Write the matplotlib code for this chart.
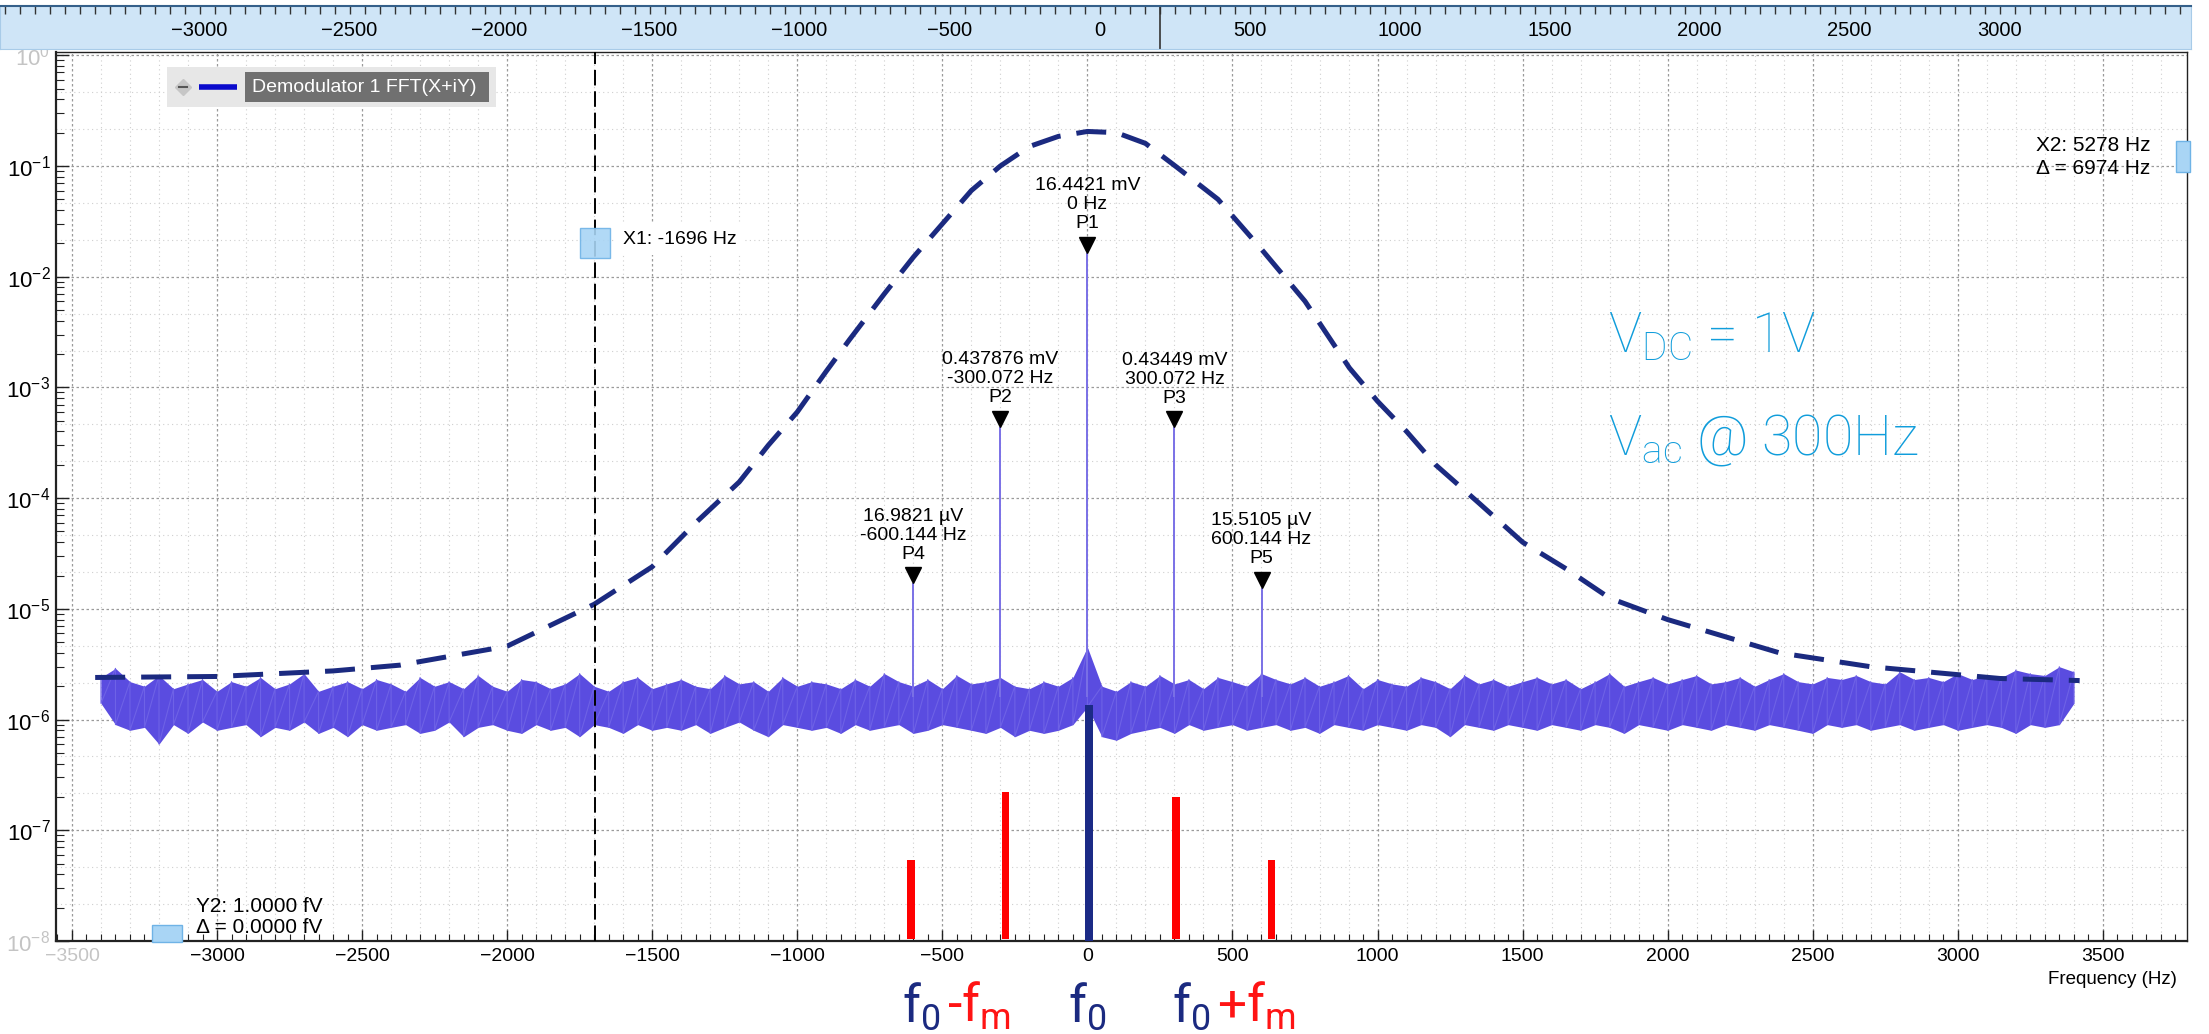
import numpy as np
import matplotlib.pyplot as plt
from matplotlib import transforms
from matplotlib.patches import Rectangle
from matplotlib.ticker import MultipleLocator, LogLocator, NullFormatter

plt.rcParams['font.family'] = ['Liberation Sans', 'DejaVu Sans']
plt.rcParams['mathtext.default'] = 'regular'
plt.rcParams['font.size'] = 14

# Noise floor of the FFT, upper / lower envelope every 50 Hz (in uV)
noise_freq = np.arange(-3400, 3401, 50)
noise_hi_uV = [
    2.4, 2.9, 2.2, 2.0, 2.5, 1.9, 2.1, 2.3, 1.8, 2.2,
    2.0, 2.4, 1.9, 2.1, 2.6, 1.8, 2.0, 2.2, 1.9, 2.3,
    2.1, 1.8, 2.4, 2.0, 2.2, 1.9, 2.5, 2.0, 1.8, 2.3,
    2.2, 1.9, 2.1, 2.6, 2.0, 1.8, 2.2, 2.4, 1.9, 2.1,
    2.3, 2.0, 1.9, 2.5, 2.1, 2.2, 1.8, 2.4, 2.0, 2.2,
    2.1, 1.9, 2.3, 2.0, 2.6, 2.2, 2.0, 2.3, 1.9, 2.5,
    2.1, 2.2, 2.4, 2.0, 1.9, 2.2, 2.0, 2.4, 4.5, 2.0,
    1.8, 2.2, 2.0, 2.5, 2.1, 2.3, 1.9, 2.4, 2.2, 2.0,
    2.6, 2.3, 2.1, 2.4, 2.0, 2.2, 2.5, 1.9, 2.3, 2.1,
    2.0, 2.4, 2.2, 1.9, 2.5, 2.1, 2.3, 2.0, 2.2, 2.4,
    2.1, 2.3, 1.9, 2.2, 2.6, 2.0, 2.2, 2.4, 2.1, 2.3,
    2.5, 2.1, 2.2, 2.4, 2.0, 2.3, 2.6, 2.2, 2.1, 2.4,
    2.3, 2.5, 2.2, 2.1, 2.7, 2.3, 2.4, 2.2, 2.6, 2.3,
    2.5, 2.4, 2.8, 2.6, 2.5, 3.0, 2.7,
]
noise_lo_uV = [
    1.4, 0.9, 0.8, 0.85, 0.6, 0.9, 0.75, 0.95, 0.8, 0.85,
    0.9, 0.7, 0.85, 0.8, 0.95, 0.75, 0.85, 0.7, 0.9, 0.8,
    0.85, 0.9, 0.75, 0.8, 0.95, 0.7, 0.85, 0.9, 0.8, 0.75,
    0.9, 0.8, 0.85, 0.7, 0.9, 0.85, 0.75, 0.9, 0.8, 0.85,
    0.8, 0.9, 0.75, 0.85, 0.95, 0.8, 0.7, 0.9, 0.85, 0.8,
    0.85, 0.75, 0.9, 0.8, 0.85, 0.9, 0.75, 0.8, 0.9, 0.85,
    0.8, 0.75, 0.85, 0.7, 0.8, 0.75, 0.8, 0.9, 1.3, 0.7,
    0.65, 0.75, 0.8, 0.85, 0.75, 0.9, 0.8, 0.85, 0.9, 0.8,
    0.85, 0.9, 0.8, 0.85, 0.75, 0.9, 0.85, 0.8, 0.9, 0.85,
    0.8, 0.9, 0.85, 0.7, 0.9, 0.85, 0.8, 0.9, 0.85, 0.8,
    0.9, 0.85, 0.8, 0.9, 0.85, 0.75, 0.9, 0.85, 0.8, 0.9,
    0.85, 0.8, 0.9, 0.85, 0.8, 0.9, 0.85, 0.8, 0.75, 0.9,
    0.85, 0.9, 0.8, 0.85, 0.9, 0.8, 0.85, 0.9, 0.8, 0.85,
    0.9, 0.85, 0.75, 0.9, 0.85, 0.9, 1.4,
]

# Marked peaks
peak_names = ['P1', 'P2', 'P3', 'P4', 'P5']
peak_freq = [0.0, -300.072, 300.072, -600.144, 600.144]
peak_volt = [16.4421e-3, 0.437876e-3, 0.43449e-3, 16.9821e-6, 15.5105e-6]
peak_amp_text = ['16.4421 mV', '0.437876 mV', '0.43449 mV', '16.9821 µV', '15.5105 µV']
peak_freq_text = ['0 Hz', '-300.072 Hz', '300.072 Hz', '-600.144 Hz', '600.144 Hz']

# Resonance envelope (dashed)
env_freq = [-3420, -3000, -2600, -2370, -2000, -1700, -1500, -1350, -1200, -1100,
            -1000, -900, -820, -700, -600, -510, -400, -300, -200, -100,
            0, 100, 200, 307, 450, 593, 750, 903, 1000, 1100,
            1200, 1350, 1500, 1650, 1800, 2000, 2386, 2700, 3145, 3420]
env_volt = [2.4e-6, 2.45e-6, 2.75e-6, 3.1e-6, 4.6e-6, 1.1e-5, 2.4e-5, 6e-5, 1.4e-4, 3e-4,
            6e-4, 1.4e-3, 2.7e-3, 7e-3, 1.5e-2, 2.8e-2, 6e-2, 0.1, 0.15, 0.185,
            0.205, 0.2, 0.16, 0.098, 5e-2, 1.86e-2, 6e-3, 1.5e-3, 7.5e-4, 4e-4,
            2e-4, 9e-5, 4e-5, 2.3e-5, 1.25e-5, 8e-6, 4e-6, 3e-6, 2.35e-6, 2.25e-6]

# Sketched carrier and sideband lines
side_freq = [-608, -283, 306, 635]
side_top = [5.4e-8, 2.2e-7, 2.0e-7, 5.4e-8]
carrier_freq = [5]
carrier_top = [1.35e-6]
bar_floor = 1.05e-8

x1_freq = -1696
x1_level = 2e-2

NAVY = '#1b2a80'
CYAN = '#109ddb'
HANDLE_FC = '#a9d5f5'
HANDLE_EC = '#6fb3e6'

W, H = 2209, 1034
fig = plt.figure(figsize=(W / 100, H / 100), dpi=100)


def frac(l, t, r, b):
    return [l / W, 1 - b / H, (r - l) / W, (b - t) / H]


# ---- main spectrum axes ----
ax = fig.add_axes(frac(56, 52, 2187, 941))
ax.set_yscale('log')
ax.set_xlim(-3555, 3790)
ax.set_ylim(1e-8, 1.07)

ax.set_xticks(np.arange(-3500, 3501, 500))
ax.xaxis.set_minor_locator(MultipleLocator(50))
yt = list(range(-8, 1))
ax.set_yticks([10.0 ** k for k in yt])
ax.set_yticklabels([f'$10^{{{k}}}$' for k in yt])
ax.yaxis.set_minor_locator(LogLocator(base=10, subs=np.arange(2, 10), numticks=100))
ax.yaxis.set_minor_formatter(NullFormatter())
ax.tick_params(axis='both', which='both', direction='in', top=False, right=False, color='#222222')
ax.tick_params(axis='x', which='major', length=8, width=1, pad=5, labelsize=14)
ax.tick_params(axis='x', which='minor', length=5, width=0.8)
ax.tick_params(axis='y', which='major', length=9, width=1, pad=4, labelsize=16)
ax.tick_params(axis='y', which='minor', length=6, width=0.8)
for lab, k in zip(ax.get_yticklabels(), yt):
    if k in (0, -8):
        lab.set_color('#c4c4c4')
for lab in ax.get_xticklabels()[:1]:
    lab.set_color('#c4c4c4')

for side in ['left', 'bottom']:
    ax.spines[side].set_linewidth(1.6)
for side in ['top', 'right']:
    ax.spines[side].set_linewidth(1.0)
for sp in ax.spines.values():
    sp.set_color('#222222')

# grid: dotted majors, faint minors
ax.grid(which='major', axis='both', color='#9a9a9a', ls=(0, (2, 2)), lw=0.9, zorder=0)
for f in range(-3500, 3800, 100):
    if f % 500:
        ax.axvline(f, color='#cfcfcf', ls=(0, (1, 3)), lw=0.8, zorder=0)
for k in range(-8, 0):
    for j in (1, 2):
        ax.axhline(10 ** (k + j / 3), color='#cfcfcf', ls=(0, (1, 3)), lw=0.8, zorder=0)
ax.set_axisbelow(True)

# noise floor trace
hi = np.array(noise_hi_uV) * 1e-6
lo = np.array(noise_lo_uV) * 1e-6
ax.fill_between(noise_freq, lo, hi, color='#5a4ce0', lw=0, zorder=2)
ax.plot(np.repeat(noise_freq, 2), np.column_stack([hi, lo]).ravel(),
        color='#6e62e6', lw=0.8, zorder=3)

# spectral lines
ax.vlines(peak_freq, 1.6e-6, peak_volt, color='#7a70e6', lw=1.4, zorder=3)

# dashed resonance envelope
ax.plot(env_freq, env_volt, color=NAVY, lw=3.6, dashes=(6, 3.2), zorder=4)

# X1 cursor
ax.axvline(x1_freq, color='black', lw=1.4, dashes=(8, 3), zorder=4)
ax.plot(x1_freq, x1_level, 's', ms=21, mfc=HANDLE_FC, mec=HANDLE_EC, alpha=0.9, zorder=6)
ax.annotate(f'X1: {x1_freq} Hz', xy=(x1_freq, x1_level), xytext=(20, 3),
            textcoords='offset points', ha='left', va='center', zorder=6,
            bbox=dict(fc='white', ec='none', pad=5))

# sketched carrier / sidebands
ax.bar(side_freq, np.array(side_top) - bar_floor, bottom=bar_floor, width=26,
       color='#ff0000', zorder=5)
ax.bar(carrier_freq, np.array(carrier_top) - 1e-8, bottom=1e-8, width=28,
       color='#1b2a86', zorder=5)

# peak markers and labels
tri = transforms.offset_copy(ax.transData, fig=fig, x=0, y=5.8, units='points')
ax.plot(peak_freq, peak_volt, 'v', color='black', ms=11.5, transform=tri, zorder=7)
for name, f, v, a, ft in zip(peak_names, peak_freq, peak_volt, peak_amp_text, peak_freq_text):
    ax.annotate(f'{a}\n{ft}\n{name}', xy=(f, v), xytext=(0, 15),
                textcoords='offset points', ha='center', va='bottom',
                linespacing=1.15, zorder=7)

# ---- top overview band ----
axb = fig.add_axes(frac(0, 6, 2191, 49))
axb.set_facecolor('#cfe5f7')
axb.set_xlim(-3665, 3638)
axb.set_ylim(0, 1)
axb.set_yticks([])
axb.set_xticks(np.arange(-3000, 3001, 500))
axb.xaxis.set_minor_locator(MultipleLocator(50))
axb.tick_params(axis='x', which='both', top=True, bottom=False, direction='in',
                labelbottom=True, labeltop=False, length=6, width=1,
                color='#333333', pad=-20, labelsize=14.5)
axb.axvline(200, color='#333333', lw=1.2)
for side, sp in axb.spines.items():
    sp.set_color('#a8cbe8')
axb.spines['top'].set_color('#35608a')
axb.spines['top'].set_linewidth(1.5)

# ---- overlay for widgets and annotations ----
ov = fig.add_axes([0, 0, 1, 1])
ov.set_xlim(0, W)
ov.set_ylim(H, 0)
ov.axis('off')

# legend widget
ov.add_patch(Rectangle((167, 67), 329, 40, fc='#e7e7e7', ec='none'))
ov.add_patch(Rectangle((245, 72), 244, 30, fc='#707070', ec='none'))
ov.plot([199, 237], [87, 87], color='#0a0acc', lw=4, solid_capstyle='butt')
ov.plot(183, 87, 'D', ms=8, color='#c6c6c6')
ov.plot([179, 187], [87, 87], color='#555555', lw=1.5)
ov.text(252, 87, 'Demodulator 1 FFT(X+iY)', color='white', va='center', ha='left', fontsize=14)

# cursor handles
ov.add_patch(Rectangle((152, 925), 30, 17, fc=HANDLE_FC, ec=HANDLE_EC, lw=1))
ov.add_patch(Rectangle((2176, 141), 14, 31, fc=HANDLE_FC, ec=HANDLE_EC, lw=1))
ov.text(196, 917, 'Y2: 1.0000 fV\nΔ = 0.0000 fV', ha='left', va='center',
        linespacing=1.15, fontsize=15)
ov.text(2036, 157, 'X2: 5278 Hz\nΔ = 6974 Hz', ha='left', va='center',
        linespacing=1.25, fontsize=15)
ov.text(2177, 979, 'Frequency (Hz)', ha='right', va='center', fontsize=13.5)

# drive settings
big = dict(fontfamily='Roboto', fontweight='light', color=CYAN, fontsize=40, va='baseline', ha='left')
ov.text(1608, 352, '$V_{DC}$ = 1V', **big)
ov.text(1608, 455, '$V_{ac}$ @ 300Hz', **big)

# carrier / sideband labels under the axis
lab = dict(fontfamily='Roboto', fontweight='normal', fontsize=37, va='bottom', ha='left')


def chain(prev, s, color):
    return ov.annotate(s, xy=(1, 0), xycoords=prev, xytext=(5, 0),
                       textcoords='offset points', color=color, **lab)


t = ov.text(902, 1033, '$f_0$', color=NAVY, **lab)
chain(t, '-$f_m$', '#ff1414')
ov.text(1068, 1033, '$f_0$', color=NAVY, **lab)
t = ov.text(1172, 1033, '$f_0$', color=NAVY, **lab)
chain(t, '+$f_m$', '#ff1414')

fig.savefig('out.png', dpi=100)
